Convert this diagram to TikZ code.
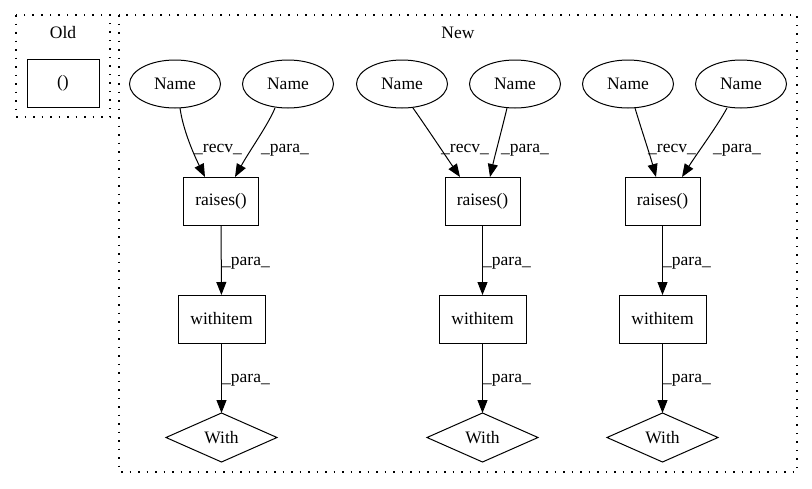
\documentclass[tikz,border=0pt]{standalone}
\usepackage{fontspec}
\setmainfont{Liberation Serif}
\usetikzlibrary{shapes.geometric,arrows.meta}
\begin{document}
\begin{tikzpicture}[x=1pt,y=-1pt,font=\fontsize{17.5}{21}\selectfont,line width=1pt]
\tikzset{
  nm/.style={ellipse,draw,minimum width=91pt,minimum height=48pt,inner sep=0pt,outer sep=0pt},
  bx/.style={rectangle,draw,minimum height=48pt,inner sep=0pt,outer sep=0pt},
  dm/.style={diamond,draw,minimum width=111pt,minimum height=49pt,inner sep=0pt,outer sep=0pt,aspect=2.27},
  lbl/.style={inner sep=0pt,outer sep=0pt},
  ar/.style={-{Triangle[length=13pt,width=10pt]}},
  cl/.style={draw,line width=1.2pt,dash pattern=on 1.5pt off 7pt}
}
\useasboundingbox (0,0) rectangle (812,488);
% clusters
\draw[cl] (16,15) rectangle (110,117);
\draw[cl] (119,15) rectangle (797,472);
\node[lbl] (oldlbl) at (63,33) {Old};
\node[lbl] (newlbl) at (458,33) {New};
\node[bx,minimum width=72pt] (old) at (63,83) {()};

% group 1
\node[nm] (a1) at (175,84) {Name};
\node[nm] (b1) at (288,84) {Name};
\node[bx,minimum width=75pt] (r1) at (221,201) {raises()};
\node[bx,minimum width=87pt] (w1) at (221.5,319) {withitem};
\node[dm] (d1) at (221.5,437.5) {With};
% group 2
\node[nm] (a2) at (402,84) {Name};
\node[nm] (b2) at (515,84) {Name};
\node[bx,minimum width=75pt] (r2) at (482.5,201) {raises()};
\node[bx,minimum width=87pt] (w2) at (482.5,319) {withitem};
\node[dm] (d2) at (482.5,437.5) {With};
% group 3
\node[nm] (a3) at (628,84) {Name};
\node[nm] (b3) at (741,84) {Name};
\node[bx,minimum width=75pt] (r3) at (662.5,201) {raises()};
\node[bx,minimum width=87pt] (w3) at (662.5,319) {withitem};
\node[dm] (d3) at (662.5,437.5) {With};

% edges group 1
\draw[ar] ([xshift=5pt]a1.south) .. controls (183,130) and (194,155) .. ([xshift=-16pt]r1.north);
\draw[ar] ([xshift=-13pt]b1.south) .. controls (268,125) and (250,150) .. ([xshift=14pt]r1.north);
\draw[ar] (r1) -- (w1);
\draw[ar] (w1) -- (d1);
\node[lbl] (l1a) at (218,150) {\_recv\_};
\node[lbl] (l1b) at (285,150) {\_para\_};
\node[lbl] (l1c) at (246,263) {\_para\_};
\node[lbl] (l1d) at (246,380) {\_para\_};

% edges group 2
\draw[ar] ([xshift=11pt]a2.south) .. controls (425,125) and (445,155) .. ([xshift=-22.5pt]r2.north);
\draw[ar] ([xshift=-8pt]b2.south) .. controls (503,125) and (495,155) .. ([xshift=7.5pt]r2.north);
\draw[ar] (r2) -- (w2);
\draw[ar] (w2) -- (d2);
\node[lbl] (l2a) at (465,150) {\_recv\_};
\node[lbl] (l2b) at (525,150) {\_para\_};
\node[lbl] (l2c) at (507,263) {\_para\_};
\node[lbl] (l2d) at (507,380) {\_para\_};

% edges group 3
\draw[ar] ([xshift=7pt]a3.south) .. controls (640,125) and (650,155) .. ([xshift=-6.5pt]r3.north);
\draw[ar] ([xshift=-14pt]b3.south) .. controls (718,125) and (698,152) .. ([xshift=19.5pt]r3.north);
\draw[ar] (r3) -- (w3);
\draw[ar] (w3) -- (d3);
\node[lbl] (l3a) at (672,150) {\_recv\_};
\node[lbl] (l3b) at (737,150) {\_para\_};
\node[lbl] (l3c) at (687,263) {\_para\_};
\node[lbl] (l3d) at (687,380) {\_para\_};
\end{tikzpicture}
\end{document}
